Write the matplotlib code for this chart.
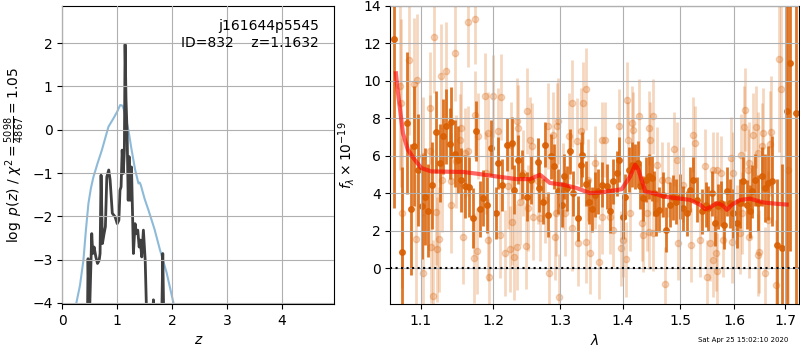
import numpy as np
import matplotlib
matplotlib.use("Agg")
import matplotlib.pyplot as plt
from matplotlib.ticker import NullLocator

# redshift probability (black) and chi2 curve (blue)
pz_z = [0.44, 0.456, 0.468, 0.49, 0.535, 0.553, 0.578, 0.61, 0.64, 0.67, 0.687, 0.705,
        0.73, 0.76, 0.784, 0.81, 0.845, 0.87, 0.91, 0.96, 1.0, 1.03, 1.05, 1.07, 1.09,
        1.11, 1.13, 1.143, 1.16, 1.18, 1.20, 1.216, 1.234, 1.26, 1.295, 1.325, 1.35,
        1.374, 1.40, 1.42, 1.447, 1.477, 1.51, 1.54, 1.64, 1.66, 1.68, 1.81, 1.83, 1.85, 1.9]
pz_log = [-4.5, -4.5, -2.98, -4.5, -2.4, -2.86, -2.71, -2.94, -3.09, -3.02, -2.86, -1.05,
          -2.63, -2.40, -2.24, -1.09, -0.93, -1.16, -1.93, -2.01, -2.17, -2.09, -1.40, -1.32,
          -0.47, -1.01, -0.47, 1.97, 0.69, -0.08, -1.63, -0.62, -1.63, -0.86, -2.86, -2.17,
          -2.40, -2.32, -2.71, -2.55, -2.94, -2.32, -3.02, -4.5, -4.5, -3.93, -4.5, -4.5,
          -2.86, -4.5, -4.5]
chi_z = [0.25, 0.32, 0.383, 0.43, 0.475, 0.52, 0.566, 0.64, 0.72, 0.78, 0.84, 0.93, 1.00,
         1.053, 1.09, 1.113, 1.16, 1.204, 1.26, 1.327, 1.387, 1.41, 1.43, 1.50, 1.57, 1.68,
         1.78, 1.90, 2.03]
chi_val = [-4.03, -3.6, -3.02, -2.3, -1.70, -1.35, -1.09, -0.78, -0.47, -0.2, 0.07, 0.26,
           0.42, 0.57, 0.56, 0.50, 0.25, -0.01, -0.45, -0.93, -1.24, -1.22, -1.28, -1.60,
           -1.86, -2.30, -2.78, -3.30, -4.03]

# combined spectrum (dark points)
lam = [1.0655, 1.0757, 1.0826, 1.0870, 1.0913, 1.0965, 1.1021, 1.1053, 1.1097, 1.1154,
       1.1199, 1.1261, 1.1297, 1.1342, 1.1388, 1.1410, 1.1456, 1.1502, 1.1539, 1.1603,
       1.1650, 1.1714, 1.1756, 1.1804, 1.1851, 1.1912, 1.1960, 1.2032, 1.2069, 1.2118,
       1.2191, 1.2264, 1.2302, 1.2352, 1.2411, 1.2486, 1.2550, 1.2651, 1.2675, 1.2727,
       1.2762, 1.2812, 1.2854, 1.2905, 1.2966, 1.3019, 1.3060, 1.3097, 1.3149, 1.3201,
       1.3275, 1.3323, 1.3343, 1.3398, 1.3456, 1.3504, 1.3548, 1.3601, 1.3666, 1.3738,
       1.3793, 1.3847, 1.3903, 1.3947, 1.4004, 1.4042, 1.4114, 1.4155, 1.4211, 1.4257,
       1.4296, 1.4342, 1.4399, 1.4456, 1.4497, 1.4537, 1.4572, 1.4630, 1.4689, 1.4747,
       1.4818, 1.4866, 1.4924, 1.4996, 1.5055, 1.5116, 1.5176, 1.5236, 1.5309, 1.5390,
       1.5469, 1.5512, 1.5575, 1.5637, 1.5698, 1.5743, 1.5806, 1.5857, 1.5919, 1.5982,
       1.6059, 1.6111, 1.6174, 1.6240, 1.6304, 1.6337, 1.6402, 1.6467, 1.6534, 1.6599,
       1.6665, 1.6733, 1.6833, 1.6934, 1.7047, 1.7103, 1.7226]
flux = [12.21, 0.88, 7.75, 3.14, 6.50, 5.25, 3.29, 3.82, 3.07, 4.41,
        7.27, 5.61, 7.04, 7.57, 6.64, 7.79, 6.11, 5.79, 4.71, 4.36,
        4.32, 2.66, 7.34, 3.14, 3.73, 3.38, 6.41, 2.93, 5.61, 4.45,
        6.59, 6.68, 4.18, 5.79, 4.98, 3.82, 4.71, 5.66, 4.27, 3.55,
        6.59, 2.84, 5.96, 5.43, 4.09, 3.38, 4.89, 4.27, 6.23, 4.00,
        2.66, 5.52, 6.05, 4.50, 3.55, 3.14, 3.91, 4.09, 4.45, 4.36,
        3.07, 4.63, 5.07, 5.79, 2.75, 3.82, 5.25, 5.52, 5.43, 5.61,
        4.36, 3.73, 4.71, 4.89, 4.80, 4.00, 2.93, 3.11, 3.91, 2.04,
        3.38, 3.79, 3.55, 3.82, 3.20, 2.93, 4.18, 4.71, 3.64, 3.02,
        3.38, 3.20, 4.00, 2.39, 3.29, 3.46, 2.30, 4.09, 3.46, 2.93,
        2.39, 3.46, 4.63, 3.38, 3.02, 4.09, 4.71, 3.46, 4.89, 4.27,
        4.54, 4.63, 1.23, 1.05, 8.38, 10.93, 8.29]
flux_err = [9.0, 4.5, 3.8, 3.5, 3.2, 3.0, 2.8, 2.6, 2.5, 2.3,
            2.2, 2.1, 2.0, 2.0, 1.9, 1.9, 1.8, 1.8, 1.7, 1.7,
            1.6, 1.6, 1.6, 1.5, 1.5, 1.5, 1.5, 1.4, 1.4, 1.4,
            1.4, 1.4, 1.3, 1.3, 1.3, 1.3, 1.3, 1.3, 1.3, 1.2,
            1.2, 1.2, 1.2, 1.2, 1.2, 1.2, 1.2, 1.2, 1.2, 1.2,
            1.2, 1.2, 1.2, 1.2, 1.2, 1.2, 1.2, 1.2, 1.2, 1.2,
            1.2, 1.2, 1.2, 1.2, 1.2, 1.2, 1.2, 1.2, 1.2, 1.2,
            1.2, 1.2, 1.2, 1.2, 1.2, 1.2, 1.2, 1.2, 1.2, 1.2,
            1.2, 1.2, 1.2, 1.2, 1.2, 1.2, 1.2, 1.2, 1.2, 1.2,
            1.2, 1.2, 1.2, 1.2, 1.2, 1.2, 1.3, 1.3, 1.3, 1.3,
            1.3, 1.3, 1.3, 1.3, 1.4, 1.4, 1.4, 1.5, 1.6, 1.8,
            2.0, 2.4, 3.5, 4.5, 11.0, 10.0, 11.0]

# individual beam spectra (light points)
beam_lam = [1.0728, 1.0748, 1.0752, 1.0843, 1.0912, 1.0942, 1.0947, 1.1031, 1.1035, 1.1118,
            1.1126, 1.1131, 1.1163, 1.1176, 1.1207, 1.1220, 1.1244, 1.1275, 1.1278, 1.1342,
            1.1401, 1.1409, 1.1456, 1.1478, 1.1524, 1.1547, 1.1570, 1.1594, 1.1640, 1.1645,
            1.1724, 1.1742, 1.1745, 1.1770, 1.1780, 1.1874, 1.1897, 1.1921, 1.1925, 1.1931,
            1.1992, 1.2069, 1.2093, 1.2108, 1.2166, 1.2214, 1.2238, 1.2253, 1.2263, 1.2297,
            1.2337, 1.2346, 1.2352, 1.2385, 1.2434, 1.2470, 1.2485, 1.2508, 1.2534, 1.2568,
            1.2583, 1.2658, 1.2685, 1.2761, 1.2811, 1.2821, 1.2889, 1.2915, 1.2926, 1.2941,
            1.2966, 1.2970, 1.3043, 1.3070, 1.3132, 1.3174, 1.3184, 1.3254, 1.3279, 1.3322,
            1.3354, 1.3397, 1.3400, 1.3440, 1.3467, 1.3547, 1.3550, 1.3612, 1.3656, 1.3666,
            1.3711, 1.3793, 1.3837, 1.3946, 1.3968, 1.4002, 1.4058, 1.4068, 1.4095, 1.4124,
            1.4154, 1.4181, 1.4283, 1.4324, 1.4341, 1.4410, 1.4455, 1.4458, 1.4467, 1.4524,
            1.4527, 1.4594, 1.4670, 1.4728, 1.4787, 1.4887, 1.4935, 1.4964, 1.5053, 1.5187,
            1.5235, 1.5272, 1.5357, 1.5449, 1.5492, 1.5542, 1.5592, 1.5603, 1.5653, 1.5666,
            1.5668, 1.5741, 1.5790, 1.5930, 1.5949, 1.5979, 1.6044, 1.6108, 1.6121, 1.6140,
            1.6191, 1.6204, 1.6269, 1.6288, 1.6290, 1.6355, 1.6420, 1.6465, 1.6467, 1.6487,
            1.6531, 1.6563, 1.6597, 1.6663, 1.6697, 1.6717, 1.6818, 1.6884, 1.6911, 1.7066]
beam_flux = [9.75, 8.82, 2.93, 11.09, 9.84, 1.54, 10.07, 5.96, -0.29, 6.23,
             8.55, 1.11, -1.50, 12.36, 2.98, 1.00, 1.54, 10.25, 4.71, 10.55,
             3.38, 4.63, 11.50, 5.70, 6.82, 7.48, 1.64, 6.14, 13.14, 6.23,
             0.52, 13.32, 8.20, 0.91, 7.04, 9.18, 5.07, 7.21, 1.50, -0.50,
             9.18, 7.30, 1.77, 9.14, 0.82, 4.36, 1.00, 6.59, 2.48, 0.61,
             7.84, 1.11, 7.48, 3.55, 5.07, 1.18, 8.38, 3.20, 6.86, 6.50,
             2.75, 4.63, 2.66, 3.64, 7.57, -0.29, 7.12, 1.64, 2.93, 7.61,
             7.84, -1.54, 4.36, 2.93, 7.04, 2.13, 8.79, 6.77, 1.32, 7.30,
             8.82, 9.57, 1.41, 4.71, 0.79, 5.61, 4.09, 0.34, 2.75, 6.86,
             6.86, 2.75, 2.04, 7.57, 1.05, 1.50, 0.46, 9.00, 6.86, 2.93,
             7.75, 7.39, 8.11, 2.39, 1.77, 2.93, 7.48, 1.95, 6.86, 8.11,
             1.86, 5.52, 4.71, -0.86, 4.71, 6.36, 5.79, 1.36, 4.45, 1.23,
             7.12, 6.68, 1.50, 5.43, -0.50, 1.32, 5.25, 0.43, 0.79, 5.25,
             -0.14, 5.07, 1.50, 5.88, 1.39, 5.07, 2.21, 1.86, 6.05, 2.93,
             7.54, 8.46, 5.25, 5.61, 1.68, 7.13, 7.52, 6.14, 0.70, 0.88,
             6.54, 7.21, -0.29, 2.57, 6.64, 7.25, -0.91, 11.18, 9.54, 5.25]
beam_err = [4.5, 4.5, 4.0, 4.0, 3.5, 3.5, 3.5, 3.2, 3.2, 3.0,
            3.0, 3.0, 3.0, 3.0, 2.8, 2.8, 2.8, 2.8, 2.8, 2.6,
            2.6, 2.6, 2.6, 2.5, 2.5, 2.5, 2.5, 2.4, 2.4, 2.4,
            2.4, 2.4, 2.3, 2.3, 2.3, 2.3, 2.2, 2.2, 2.2, 2.2,
            2.2, 2.3, 2.3, 2.3, 2.3, 2.3, 2.3, 2.3, 2.3, 2.3,
            2.3, 2.3, 2.3, 2.3, 2.3, 2.3, 2.3, 2.3, 2.3, 2.3,
            2.3, 2.3, 2.3, 2.3, 2.3, 2.3, 2.3, 2.3, 2.3, 2.3,
            2.3, 2.3, 2.3, 2.3, 2.3, 2.3, 2.3, 2.3, 2.3, 2.3,
            2.2, 2.2, 2.2, 2.2, 2.2, 2.0, 2.0, 2.0, 2.0, 2.0,
            2.0, 2.0, 2.0, 2.0, 2.0, 2.0, 2.0, 2.0, 2.0, 2.0,
            2.0, 2.0, 2.0, 2.0, 2.0, 2.0, 2.0, 2.0, 2.0, 2.0,
            2.0, 2.0, 2.0, 2.0, 2.0, 2.0, 2.0, 2.0, 2.0, 2.0,
            2.0, 2.0, 2.0, 2.0, 2.0, 2.0, 2.0, 2.0, 2.0, 2.0,
            2.0, 2.0, 2.0, 2.2, 2.2, 2.2, 2.2, 2.2, 2.2, 2.2,
            2.2, 2.2, 2.2, 2.2, 2.2, 2.2, 2.2, 2.2, 2.2, 2.2,
            2.3, 2.4, 2.5, 2.6, 2.8, 3.0, 3.5, 5.0, 6.0, 9.0]

# best-fit model
model_lam = [1.0680, 1.0700, 1.0728, 1.0770, 1.0833, 1.0922, 1.1009, 1.1140, 1.1576, 1.1762,
             1.2047, 1.2338, 1.2535, 1.2686, 1.2839, 1.3045, 1.3255, 1.3468, 1.3630, 1.3849,
             1.3987, 1.4128, 1.4212, 1.4269, 1.4383, 1.4527, 1.4702, 1.4938, 1.5178, 1.5361,
             1.5453, 1.5546, 1.5670, 1.5764, 1.5859, 1.5954, 1.6113, 1.6307, 1.6569, 1.6835,
             1.7034]
model_flux = [10.4, 9.6, 8.64, 7.2, 6.32, 5.79, 5.34, 5.16, 5.13, 5.04,
              4.89, 4.75, 4.75, 4.98, 4.54, 4.45, 4.27, 4.00, 4.04, 4.14,
              4.21, 4.89, 5.52, 5.25, 4.09, 4.00, 3.82, 3.73, 3.64, 3.38,
              3.14, 3.25, 3.46, 3.38, 3.11, 3.38, 3.64, 3.70, 3.50, 3.43,
              3.39]

wave_ticks = [1.1, 1.2, 1.3, 1.4, 1.5, 1.6, 1.7]

fig = plt.figure(figsize=(8, 3.5), dpi=100)

# left: p(z)
ax1 = fig.add_axes([0.078, 0.131, 0.340, 0.852])
ax1.plot(chi_z, chi_val, color='#1f77b4', alpha=0.5, lw=1.5)
ax1.plot(pz_z, pz_log, color='0.25', lw=2)
ax1.set_xlim(0, 4.96)
ax1.set_ylim(-4.03, 2.86)
ax1.set_xticks([0, 1, 2, 3, 4])
ax1.set_yticks([-4, -3, -2, -1, 0, 1, 2])
ax1.grid(True)
ax1.set_axisbelow(False)
ax1.set_xlabel('$z$')
ax1.set_ylabel(r'$\log\ p(z)$ / $\chi^2=\frac{5098}{4867}=1.05$')
ax1.text(0.944, 0.955, 'j161644p5545\nID=832    z=1.1632', transform=ax1.transAxes,
         ha='right', va='top', fontsize=10)

# right: spectrum
ax2 = fig.add_axes([0.488, 0.131, 0.511, 0.852])
ax2.errorbar(beam_lam, beam_flux, yerr=beam_err, fmt='o', color='#d95f02', ms=4.5,
             elinewidth=2, alpha=0.25, zorder=1)
ax2.errorbar(lam, flux, yerr=flux_err, fmt='o', color='#d95f02', ms=4,
             elinewidth=2, alpha=0.85, zorder=2)
ax2.plot(model_lam, model_flux, color='r', lw=3, alpha=0.6, zorder=4)
ax2.axhline(0, color='k', ls=':', lw=1.5, zorder=5)
ax2.set_xscale('log')
ax2.set_xlim(1.061, 1.729)
ax2.set_ylim(-1.93, 14)
ax2.set_xticks(wave_ticks)
ax2.set_xticklabels([str(t) for t in wave_ticks])
ax2.xaxis.set_minor_locator(NullLocator())
ax2.set_yticks([0, 2, 4, 6, 8, 10, 12, 14])
ax2.grid(True)
ax2.set_axisbelow(False)
ax2.set_xlabel(r'$\lambda$')
ax2.set_ylabel(r'$f_\lambda\times10^{-19}$')

fig.text(0.985, 0.028, 'Sat Apr 25 15:02:10 2020', ha='right', va='center', fontsize=5)

fig.savefig('out.png', dpi=100)
